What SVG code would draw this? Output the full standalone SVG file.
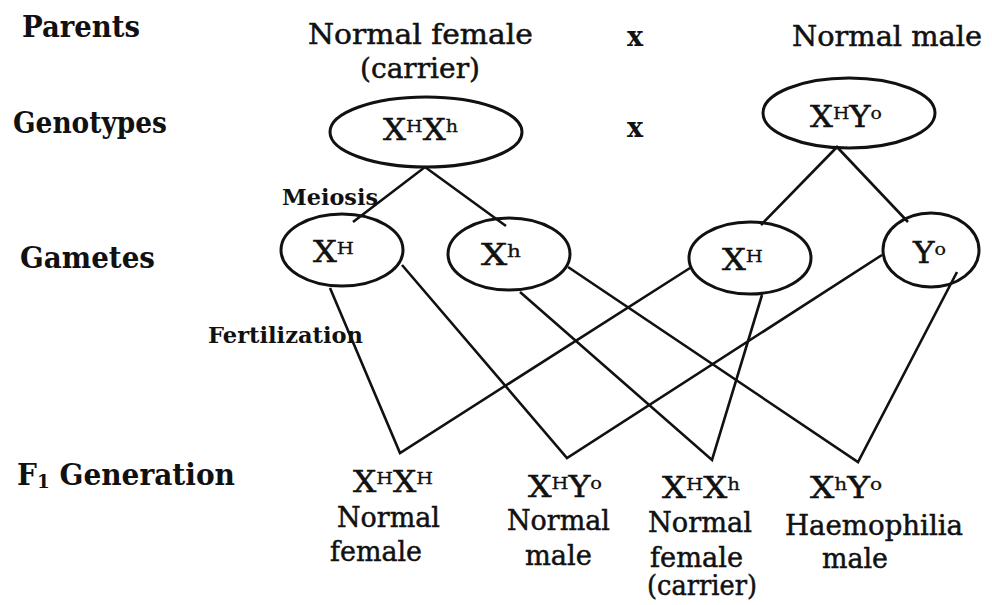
<svg xmlns="http://www.w3.org/2000/svg" width="992" height="605" viewBox="0 0 992 605">
  <style>
    text { font-family: "DejaVu Serif", "Liberation Serif", serif; fill: #111; }
    .head { font-size: 29px; font-weight: bold; }
    .step { font-size: 23px; font-weight: bold; }
    .lbl { font-size: 27px; stroke: #111; stroke-width: 0.5; }
    .geno { font-size: 29px; stroke: #111; stroke-width: 0.5; }
    .sup { font-size: 17px; stroke-width: 0.3; }
    .cross { font-size: 27px; font-weight: bold; }
    ellipse { fill: none; stroke: #111; stroke-width: 3; }
    .link { fill: none; stroke: #111; stroke-width: 2.6; stroke-linejoin: miter; }
  </style>

  <rect width="992" height="605" fill="#fff"/>

  <!-- row headings -->
  <g id="headings">
    <text class="head" x="22" y="37" textLength="118" lengthAdjust="spacingAndGlyphs">Parents</text>
    <text class="head" x="13" y="133" textLength="154" lengthAdjust="spacingAndGlyphs">Genotypes</text>
    <text class="head" x="20" y="268" textLength="135" lengthAdjust="spacingAndGlyphs">Gametes</text>
    <text class="head" x="17" y="485" textLength="218" lengthAdjust="spacingAndGlyphs">F<tspan font-size="19" dy="3">1</tspan><tspan dy="-3"> Generation</tspan></text>
  </g>

  <!-- connectors -->
  <g id="connectors">
    <!-- meiosis -->
    <path class="link" d="M353,222 L425,167 L506,226"/>
    <path class="link" d="M761,225 L837,147 L908,222"/>
    <!-- fertilization -->
    <path class="link" d="M330,288 L400,453 L690,268"/>
    <path class="link" d="M402,265 L567,458 L882,255"/>
    <path class="link" d="M520,292 L712,460 L762,295"/>
    <path class="link" d="M568,267 L858,462 L957,272"/>
  </g>

  <!-- parents -->
  <g id="mother">
    <text class="lbl" x="308" y="44" textLength="225" lengthAdjust="spacingAndGlyphs">Normal female</text>
    <text class="lbl" x="360" y="78" textLength="120" lengthAdjust="spacingAndGlyphs">(carrier)</text>
    <ellipse cx="426" cy="132" rx="96" ry="35"/>
    <text class="geno" x="383" y="140" textLength="75" lengthAdjust="spacingAndGlyphs">X<tspan class="sup" dy="-8">H</tspan><tspan dy="8">X</tspan><tspan class="sup" dy="-8">h</tspan></text>
  </g>

  <g id="cross-signs">
    <text class="cross" x="635" y="46" text-anchor="middle">x</text>
    <text class="cross" x="635" y="137" text-anchor="middle">x</text>
  </g>

  <g id="father">
    <text class="lbl" x="792" y="46" textLength="190" lengthAdjust="spacingAndGlyphs">Normal male</text>
    <ellipse cx="849" cy="113" rx="86" ry="35"/>
    <text class="geno" x="810" y="127" textLength="72" lengthAdjust="spacingAndGlyphs">X<tspan class="sup" dy="-8">H</tspan><tspan dy="8">Y</tspan><tspan class="sup" dy="-8">o</tspan></text>
  </g>

  <!-- process labels -->
  <g id="process-labels">
    <text class="step" x="282" y="205" textLength="96" lengthAdjust="spacingAndGlyphs">Meiosis</text>
    <text class="step" x="208" y="343" textLength="155" lengthAdjust="spacingAndGlyphs">Fertilization</text>
  </g>

  <!-- gametes -->
  <g id="gamete-XH-mother">
    <ellipse cx="342" cy="250" rx="61" ry="36"/>
    <text class="geno" x="313" y="262" textLength="41" lengthAdjust="spacingAndGlyphs">X<tspan class="sup" dy="-8">H</tspan></text>
  </g>
  <g id="gamete-Xh-mother">
    <ellipse cx="509" cy="254" rx="61" ry="36"/>
    <text class="geno" x="481" y="265" textLength="40" lengthAdjust="spacingAndGlyphs">X<tspan class="sup" dy="-8">h</tspan></text>
  </g>
  <g id="gamete-XH-father">
    <ellipse cx="750" cy="258" rx="61" ry="36"/>
    <text class="geno" x="722" y="270" textLength="41" lengthAdjust="spacingAndGlyphs">X<tspan class="sup" dy="-8">H</tspan></text>
  </g>
  <g id="gamete-Yo-father">
    <ellipse cx="931" cy="250" rx="48" ry="37"/>
    <text class="geno" x="913" y="263" textLength="33" lengthAdjust="spacingAndGlyphs">Y<tspan class="sup" dy="-8">o</tspan></text>
  </g>

  <!-- F1 offspring -->
  <g id="f1-XHXH">
    <text class="geno" x="353" y="492" textLength="80" lengthAdjust="spacingAndGlyphs">X<tspan class="sup" dy="-8">H</tspan><tspan dy="8">X</tspan><tspan class="sup" dy="-8">H</tspan></text>
    <text class="lbl" x="337" y="527" textLength="103" lengthAdjust="spacingAndGlyphs">Normal</text>
    <text class="lbl" x="330" y="561" textLength="92" lengthAdjust="spacingAndGlyphs">female</text>
  </g>
  <g id="f1-XHYo">
    <text class="geno" x="528" y="497" textLength="74" lengthAdjust="spacingAndGlyphs">X<tspan class="sup" dy="-8">H</tspan><tspan dy="8">Y</tspan><tspan class="sup" dy="-8">o</tspan></text>
    <text class="lbl" x="507" y="530" textLength="103" lengthAdjust="spacingAndGlyphs">Normal</text>
    <text class="lbl" x="525" y="565" textLength="67" lengthAdjust="spacingAndGlyphs">male</text>
  </g>
  <g id="f1-XHXh">
    <text class="geno" x="662" y="498" textLength="78" lengthAdjust="spacingAndGlyphs">X<tspan class="sup" dy="-8">H</tspan><tspan dy="8">X</tspan><tspan class="sup" dy="-8">h</tspan></text>
    <text class="lbl" x="648" y="532" textLength="104" lengthAdjust="spacingAndGlyphs">Normal</text>
    <text class="lbl" x="650" y="567" textLength="93" lengthAdjust="spacingAndGlyphs">female</text>
    <text class="lbl" x="647" y="595" textLength="110" lengthAdjust="spacingAndGlyphs">(carrier)</text>
  </g>
  <g id="f1-XhYo">
    <text class="geno" x="810" y="498" textLength="72" lengthAdjust="spacingAndGlyphs">X<tspan class="sup" dy="-8">h</tspan><tspan dy="8">Y</tspan><tspan class="sup" dy="-8">o</tspan></text>
    <text class="lbl" x="785" y="535" textLength="178" lengthAdjust="spacingAndGlyphs">Haemophilia</text>
    <text class="lbl" x="822" y="568" textLength="66" lengthAdjust="spacingAndGlyphs">male</text>
  </g>
</svg>
